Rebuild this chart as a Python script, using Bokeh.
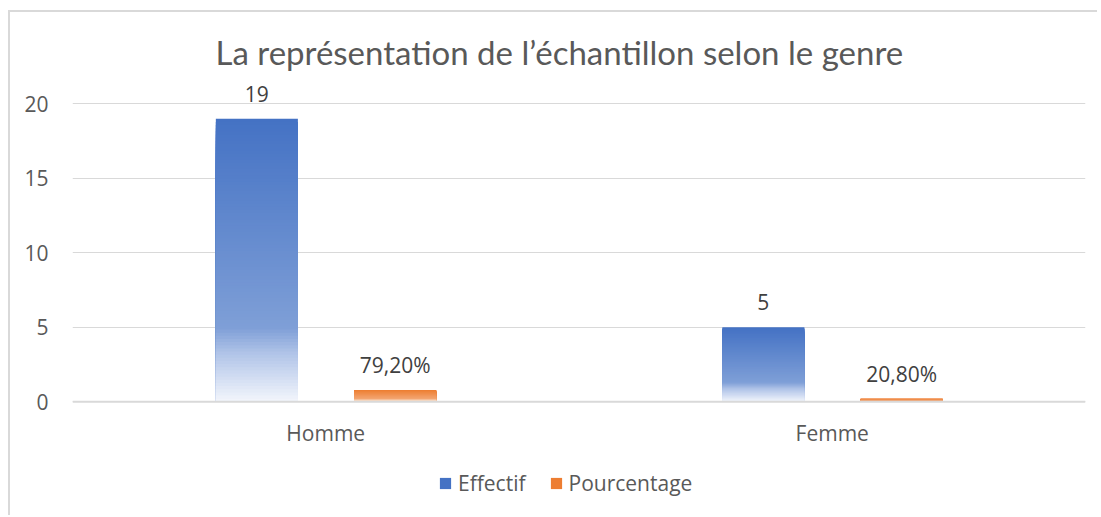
import numpy as np
from bokeh.plotting import figure
from bokeh.models import Range1d, FactorRange, ColumnDataSource, FixedTicker, Legend, LegendItem, Span
from bokeh.transform import dodge
from bokeh.core.properties import value
from bokeh.embed import file_html
from bokeh.resources import INLINE

# ---- data ----
categories = ["Homme", "Femme"]
effectif = [19, 5]
pourcentage = [0.792, 0.208]
series_names = ["Effectif", "Pourcentage"]
y_ticks = [0, 5, 10, 15, 20]
title_text = "La représentation de l’échantillon selon le genre"

# ---- style ----
BLUE_STOPS = [(0.0, "#4472C4"), (0.74, "#7F9FD7"), (0.83, "#B1C4E8"), (1.0, "#F3F6FC")]
ORANGE_STOPS = [(0.0, "#ED7D31"), (0.74, "#F3A571"), (0.83, "#F7C4A0"), (1.0, "#FDF0E7")]
FONT = "Open Sans"
TXT = "#595959"
N_SLICES = 90
BAR_W = 0.162
OFFS = [-0.136, 0.137]
W, H = 1089, 505
MB_TOP = 69
PX_PER_UNIT = 14.9
Y_TOP = 21.5
Y_BOT = Y_TOP - (H - MB_TOP) / PX_PER_UNIT  # room below the baseline for labels & legend


def hex2rgb(h):
    h = h.lstrip("#")
    return tuple(int(h[i:i + 2], 16) for i in (0, 2, 4))


def grad_color(stops, f):
    for (f0, c0), (f1, c1) in zip(stops[:-1], stops[1:]):
        if f <= f1:
            t = 0 if f1 == f0 else (f - f0) / (f1 - f0)
            a, b = hex2rgb(c0), hex2rgb(c1)
            r = [round(a[i] + (b[i] - a[i]) * t) for i in range(3)]
            return "#%02x%02x%02x" % tuple(r)
    return stops[-1][1]


def slices(vals, stops):
    cat, top, col = [], [], []
    for c, v in zip(categories, vals):
        for k in range(N_SLICES):
            cat.append(c)
            top.append(v * (N_SLICES - k) / N_SLICES)
            col.append(grad_color(stops, (k + 0.5) / N_SLICES))
    return ColumnDataSource(dict(cat=cat, top=top, color=col))


p = figure(
    x_range=FactorRange(*categories, range_padding=0),
    y_range=Range1d(Y_BOT, Y_TOP),
    width=W, height=H, x_axis_location=None,
    min_border_left=62, min_border_right=14, min_border_top=MB_TOP, min_border_bottom=0,
    output_backend="svg", toolbar_location=None,
    background_fill_color="white", border_fill_color="white",
)
p.outline_line_color = None
p.styles = {"border-left": "2px solid #d9d9d9", "border-top": "2px solid #d9d9d9",
            "margin-left": "8px", "margin-top": "10px"}

p.title.text = title_text
p.title.align = "left"
p.title.offset = 143
p.title.text_font = "Lato"
p.title.text_font_size = "33px"
p.title.text_font_style = "normal"
p.title.text_color = TXT
p.title.standoff = 19

renderers = []
for vals, stops, off in [(effectif, BLUE_STOPS, OFFS[0]), (pourcentage, ORANGE_STOPS, OFFS[1])]:
    src = slices(vals, stops)
    r = p.vbar(x=dodge("cat", off, range=p.x_range), top="top", bottom=0, width=BAR_W,
               fill_color="color", line_color=None, source=src)
    renderers.append(r)

# category axis baseline + labels
p.add_layout(Span(location=0, dimension="width", line_color="#d9d9d9", line_width=2))
cat_src = ColumnDataSource(dict(cat=categories, y=[0] * len(categories)))
p.text(x="cat", y="y", text="cat", source=cat_src, text_align="center", text_baseline="middle",
       y_offset=31, text_font=value(FONT), text_font_size="21px", text_color=TXT)

# data labels
lab_eff = ColumnDataSource(dict(cat=categories, y=effectif, t=[str(v) for v in effectif]))
lab_pct = ColumnDataSource(dict(cat=categories, y=pourcentage,
                                t=[("%.2f%%" % (v * 100)).replace(".", ",") for v in pourcentage]))
for src, off in [(lab_eff, OFFS[0]), (lab_pct, OFFS[1])]:
    p.text(x=dodge("cat", off, range=p.x_range), y="y", text="t", source=src,
           text_align="center", text_baseline="alphabetic", y_offset=-25,
           text_font=value(FONT), text_font_size="21px", text_color="#404040")

# axes
p.xgrid.grid_line_color = None
p.ygrid.grid_line_color = "#d9d9d9"
p.ygrid.grid_line_width = 1
p.yaxis.ticker = FixedTicker(ticks=y_ticks)
p.yaxis.axis_line_color = None
p.yaxis.major_tick_line_color = None
p.yaxis.minor_tick_line_color = None
p.yaxis.major_label_standoff = 18
p.yaxis.major_label_text_font = FONT
p.yaxis.major_label_text_font_size = "21px"
p.yaxis.major_label_text_color = TXT

legend = Legend(
    items=[LegendItem(label=series_names[i], renderers=[renderers[i]], index=0) for i in range(2)],
    location=(366, 20), orientation="horizontal",
    border_line_color=None, background_fill_alpha=0,
    glyph_width=14, glyph_height=14, label_standoff=6, spacing=23,
    padding=0, margin=0,
    label_text_font=FONT, label_text_font_size="21px", label_text_color=TXT,
)
p.add_layout(legend)

open("out.html", "w").write(file_html(p, INLINE))
